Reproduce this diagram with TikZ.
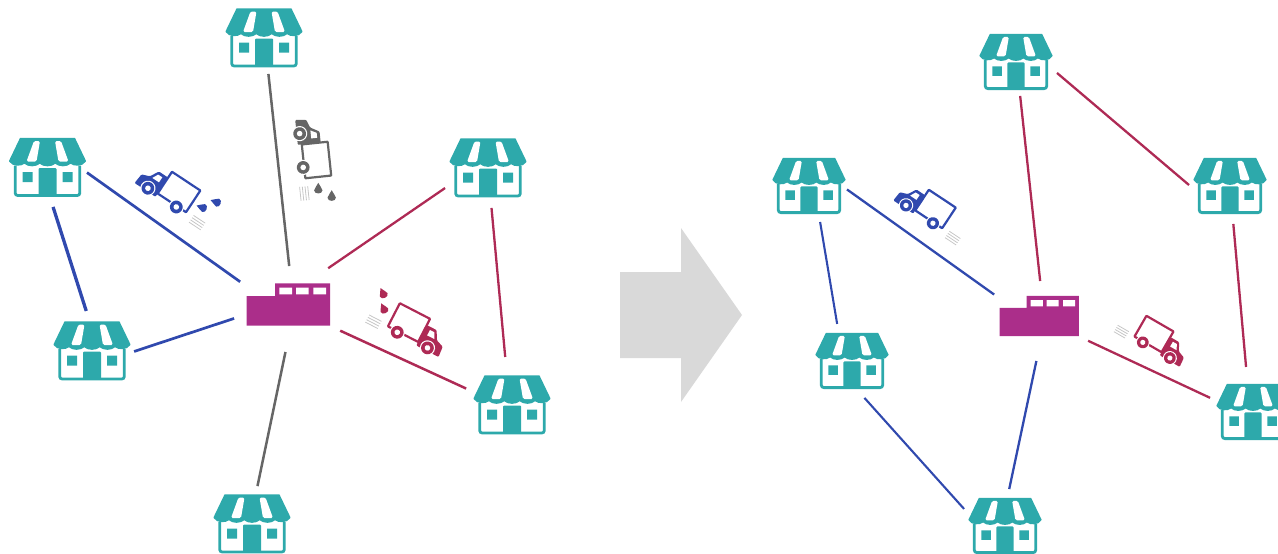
\documentclass[tikz,border=0pt]{standalone}
\definecolor{shopteal}{HTML}{2DA9AB}
\definecolor{hubplum}{HTML}{AB2E8A}
\definecolor{runblue}{HTML}{3049AE}
\definecolor{runred}{HTML}{AE2A55}
\definecolor{rungrey}{HTML}{666666}
\definecolor{bigarrow}{HTML}{D9D9D9}
\tikzset{
    spot/.style={circle,inner sep=0pt,outer sep=0pt,minimum size=2*#1 pt},
    pics/shop/.style={code={
        \draw[shopteal,line width=2.8pt,rounded corners=2.5pt] (-32.3,-2) -- (-32.3,28) -- (32.3,28) -- (32.3,-2);
        \fill[shopteal,rounded corners=1pt] (-9,28) -- (-9,.5) -- (9,.5) -- (9,28) -- cycle;
        \fill[shopteal] (-25,4.5) rectangle (-15,14.5) (15,4.5) rectangle (25,14.5);
        \filldraw[shopteal,line width=1.4pt,line join=round] (-27,-29) -- (27,-29) -- (37.8,-6.5)
            .. controls (35,-1.5) and (27,-1.5) .. (23,-4.5)
            .. controls (19,-1) and (12,-1) .. (7.7,-4.5)
            .. controls (4,-1) and (-4,-1) .. (-7.7,-4.5)
            .. controls (-12,-1) and (-19,-1) .. (-23,-4.5)
            .. controls (-27,-1.5) and (-35,-1.5) .. (-37.8,-6.5) -- cycle;
        \fill[white,rounded corners=1.5pt] (-13.5,-26.5) -- (-7.5,-26.5) -- (-11,-6) -- (-21,-6) -- cycle;
        \fill[white,rounded corners=1.5pt] (13.5,-26.5) -- (7.5,-26.5) -- (11,-6) -- (21,-6) -- cycle;
    }},
    pics/factory/.style={code={
        \fill[hubplum] (-41.5,-9) -- (-13,-9) -- (-13,-21.7) -- (42,-21.7) -- (42,20.7) -- (-41.5,20.7) -- cycle;
        \fill[white] (-8.7,-17.3) rectangle (4,-10.7) (8,-17.3) rectangle (20.7,-10.7) (25.3,-17.3) rectangle (38,-10.7);
    }},
    pics/truck/.style={code={
        \draw[gray!45,line width=.8pt] (-39,11.5) -- (-25,11.5) (-39,14.2) -- (-25,14.2) (-39,16.9) -- (-25,16.9) (-39,19.6) -- (-25,19.6);
        \draw[#1,line width=2.2pt,rounded corners=.6pt] (-17,-13) rectangle (17,13);
        \fill[#1,rounded corners=1pt] (17,-6) -- (28,-6) -- (33,3) -- (41,6) -- (42,17) -- (17,17) -- cycle;
        \fill[white] (22,-3) -- (27,-3) -- (30,3) -- (22,3) -- cycle;
        \foreach \wx in {-6,28} {
            \fill[white] (\wx,14) circle (7.6);
            \fill[#1] (\wx,14) circle (6.4);
            \fill[white] (\wx,14) circle (2.8);
        }
    }},
    pics/drop/.style={code={
        \fill[#1] (0,-6.5) .. controls (1,-3) and (4.2,-1.5) .. (4.2,1) .. controls (4.2,5.2) and (-4.2,5.2) .. (-4.2,1) .. controls (-4.2,-1.5) and (-1,-3) .. (0,-6.5) -- cycle;
    }},
}
\begin{document}
\begin{tikzpicture}[x=1pt,y=-1pt]
    \useasboundingbox (0,0) rectangle (1278,554);
    \clip (0,0) rectangle (1278,554);
    % left round
    \foreach \n/\x/\y in {l1/264/38,l2/47.5/167.5,l3/92/351,l4/488/168,l5/512/405,l6/252/524} {
        \node[spot=36] (\n) at (\x,\y) {};
        \pic at (\n) {shop};
    }
    \node[spot=38] (hubl) at (288,305) {};
    \pic at (hubl) {factory};
    % right round
    \foreach \n/\x/\y in {r1/1016/62,r2/809/186,r3/852/361,r4/1230/186,r5/1253/412,r6/1005/526} {
        \node[spot=34] (\n) at (\x,\y) {};
        \pic[scale=.95] at (\n) {shop};
    }
    \node[spot=35] (hubr) at (1039,316.5) {};
    \pic[scale=.95] at (hubr) {factory};
    % tours: from/angle/shorten/to/angle/shorten/colour/width
    \foreach \a/\aa/\sa/\b/\ab/\sb/\c/\w in {
        l1/-83.65/.2/hubl/88.3/1/rungrey/2.5,
        l6/82.8/2.3/hubl/-91.7/9.2/rungrey/2.5,
        l2/-4.65/4.4/hubl/158.4/15.5/runblue/2.7,
        l2/-83.1/3.9/l3/97.4/4.5/runblue/3.3,
        l3/-4.9/6.5/hubl/-168.9/17.6/runblue/2.7,
        l4/-158.1/11.6/hubl/46.5/16.7/runred/2.3,
        l4/-85.8/4.1/l5/99.3/12.5/runred/2.3,
        hubl/-27.5/20.2/l5/162.8/12.8/runred/2.5,
        r1/-83.3/.2/hubr/88.3/.5/runred/2.3,
        r2/-1.9/4.9/hubr/158.8/15.2/runblue/2.3,
        r2/-72.2/3.7/r3/114.3/6.1/runblue/2.1,
        r3/-75.8/5.4/r6/166.1/11.9/runblue/2.1,
        r6/84.4/3.2/hubr/-91.6/9.7/runblue/2.3,
        hubr/-27.4/19.8/r5/164.3/11.3/runred/2.3,
        r1/-8.1/9.6/r4/-171.1/9.7/runred/2.3,
        r4/-85.6/4.1/r5/100.1/11.6/runred/2.3} {
        \draw[\c,line width=\w pt,shorten <=\sa pt,shorten >=\sb pt] (\a.\aa) -- (\b.\ab);
    }
    % trucks
    \pic[rotate=-33.5,xscale=-1] at (179,192) {truck=runblue};
    \pic[rotate=-84,xscale=-1] at (316.5,160) {truck=rungrey};
    \pic[rotate=-27.3] at (409,322.6) {truck=runred};
    \pic[rotate=-33.5,xscale=-.95,yscale=.95] at (935.5,209) {truck=runblue};
    \pic[rotate=-30,scale=.92] at (1154,334) {truck=runred};
    % drops
    \foreach \x/\y/\r/\c in {202.7/207.7/70/runblue,216.7/202.3/70/runblue,318.3/189.3/0/rungrey,331.7/196.7/0/rungrey,383.3/294/25/runred,384/309.3/25/runred} {
        \pic[rotate=\r] at (\x,\y) {drop=\c};
    }
    % big arrow
    \fill[bigarrow] (620,272) -- (681,272) -- (681,228) -- (742,315) -- (681,402) -- (681,358) -- (620,358) -- cycle;
\end{tikzpicture}
\end{document}
